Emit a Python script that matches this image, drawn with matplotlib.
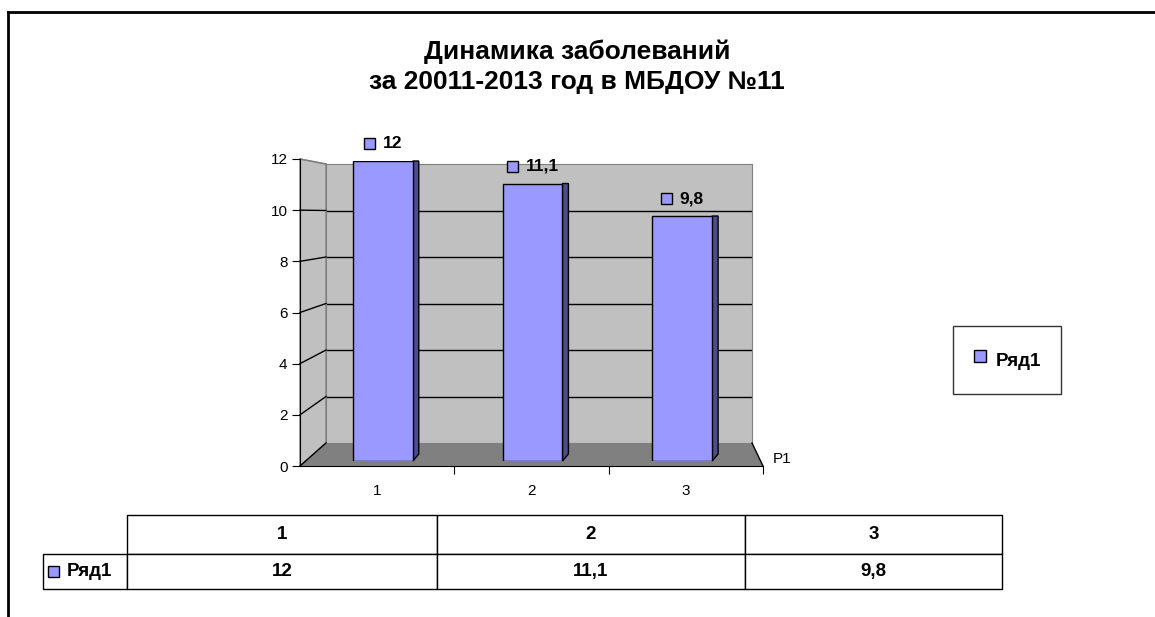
import numpy as np
import matplotlib
matplotlib.use("Agg")
import matplotlib.pyplot as plt
from matplotlib.patches import Polygon, Rectangle
from matplotlib.lines import Line2D
from matplotlib.offsetbox import AnnotationBbox, HPacker, TextArea, DrawingArea

categories = ["1", "2", "3"]
values = [12, 11.1, 9.8]
value_labels = ["12", "11,1", "9,8"]
series_name = "Ряд1"
depth_label = "Р1"
y_ticks = [0, 2, 4, 6, 8, 10, 12]
title = "Динамика заболеваний\nза 20011-2013 год в МБДОУ №11"

BAR = "#9999ff"
BAR_SIDE = "#4d4d8c"
WALL = "#c0c0c0"
FLOOR = "#808080"

W, H = 1155, 617
plt.rcParams["font.family"] = ["Liberation Sans", "DejaVu Sans"]

fig = plt.figure(figsize=(W / 100, H / 100), dpi=100)


def px_axes(l, t, r, b):
    return fig.add_axes([l / W, 1 - b / H, (r - l) / W, (b - t) / H])


def key_box(text, size=12.5):
    da = DrawingArea(9, 9, 0, 0)
    da.add_artist(Rectangle((0.5, 0.5), 8, 8, facecolor=BAR, edgecolor="black", lw=1))
    ta = TextArea(text, textprops=dict(fontsize=size, fontweight="bold"))
    return HPacker(children=[da, ta], align="center", pad=0, sep=5)


x = np.arange(1, len(values) + 1)
xlim = (0.5, len(values) + 0.5)
ymax = y_ticks[-1]

# back wall
ax_back = px_axes(326, 164, 752, 443)
ax_back.set_xlim(xlim)
ax_back.set_ylim(0, ymax)
ax_back.set_facecolor(WALL)
for v in y_ticks[1:-1]:
    ax_back.axhline(v, color="black", lw=1)
ax_back.set_xticks([])
ax_back.set_yticks([])
for s in ax_back.spines.values():
    s.set_color("#808080")

# front plane: axes, side wall, floor
ax = px_axes(300, 159, 763, 466)
ax.set_xlim(xlim)
ax.set_ylim(0, ymax)
ax.patch.set_visible(False)
for s in ["top", "right"]:
    ax.spines[s].set_visible(False)

to_front = ax_back.transData + ax.transData.inverted()


def back(px, py):
    return to_front.transform((px, py))


ax.add_patch(Polygon([(xlim[0], 0), (xlim[0], ymax), back(xlim[0], ymax), back(xlim[0], 0)],
                     facecolor=WALL, edgecolor="#808080", lw=1, clip_on=False, zorder=0))
ax.add_patch(Polygon([(xlim[0], 0), (xlim[1], 0), back(xlim[1], 0), back(xlim[0], 0)],
                     facecolor=FLOOR, edgecolor="none", clip_on=False, zorder=0))
for v in y_ticks:
    bx, by = back(xlim[0], v)
    ax.plot([xlim[0], bx], [v, by], color="black" if v < ymax else "#808080",
            lw=1, clip_on=False, zorder=1)
bx, by = back(xlim[1], 0)
ax.plot([xlim[1], bx], [0, by], color="black", lw=1, clip_on=False, zorder=1)

ax.set_yticks(y_ticks)
ax.tick_params(axis="y", direction="out", length=6, pad=3, labelsize=11)
ax.set_xticks(x + 0.5)
ax.set_xticklabels([])
ax.set_xticks(x, minor=True)
ax.set_xticklabels(categories, minor=True)
ax.tick_params(axis="x", which="major", direction="out", length=6)
ax.tick_params(axis="x", which="minor", length=0, pad=13, labelsize=11)
ax.annotate(depth_label, xy=(xlim[1], 0), xytext=(10, 7), textcoords="offset pixels",
            ha="left", va="center", fontsize=11, annotation_clip=False)

# bars
ax_mid = px_axes(308, 161, 757, 461)
ax_mid.set_xlim(xlim)
ax_mid.set_ylim(0, ymax)
ax_mid.axis("off")
ax_mid.bar(x, values, width=0.4, color=BAR, edgecolor="black", lw=1, zorder=3)
for xi, v, lab in zip(x, values, value_labels):
    xr = xi + 0.2
    ax_mid.add_patch(Polygon([(xr, 0), (xr + 0.04, 0.28), (xr + 0.04, v), (xr, v)],
                             facecolor=BAR_SIDE, edgecolor="black", lw=1, zorder=2,
                             clip_on=False))
    ab = AnnotationBbox(key_box(lab), (xi, v), xybox=(0, 12.5), boxcoords="offset points",
                        frameon=False, box_alignment=(0.5, 0.5))
    ax_mid.add_artist(ab)

# legend
handle = Line2D([], [], marker="s", linestyle="none", markerfacecolor=BAR,
                markeredgecolor="black", markersize=8)
leg = fig.legend([handle], [series_name], loc="center", bbox_to_anchor=(1007 / W, 1 - 360 / H),
                 prop=dict(size=13.5, weight="bold"), frameon=True, fancybox=False,
                 borderpad=1.05, handlelength=0.8, handleheight=2.0, handletextpad=0.45)
leg.get_frame().set_edgecolor("black")
leg.get_frame().set_linewidth(1)

# data table
ax_tab = px_axes(43, 515, 1002, 589)
ax_tab.axis("off")
col_w = np.array([84, 310, 308, 257]) / 959
tab = ax_tab.table(cellText=[[""] + categories, [""] + value_labels],
                   colWidths=list(col_w), cellLoc="center", bbox=[0, 0, 1, 1])
tab.auto_set_font_size(False)
for (r, c), cell in tab.get_celld().items():
    cell.set_linewidth(1)
    cell.get_text().set_fontsize(13.5)
    cell.get_text().set_fontweight("bold")
    cell.set_height(39 if r == 0 else 35)
tab[0, 0].visible_edges = ""
ax_tab.add_artist(AnnotationBbox(key_box(series_name, 13.5), (0, 35 / 2 / 74),
                                 xycoords="axes fraction", xybox=(4, 0),
                                 boxcoords="offset pixels", frameon=False,
                                 box_alignment=(0, 0.5)))

# title and outer frame
fig.text(577 / W, 1 - 67 / H, title, ha="center", va="center", fontsize=19,
         fontweight="bold", linespacing=1.3)
fig.add_artist(Line2D([8 / W, 8 / W], [0, 1 - 12 / H], color="black", lw=2))
fig.add_artist(Line2D([8 / W, 1], [1 - 12 / H, 1 - 12 / H], color="black", lw=2))

fig.savefig("out.png", dpi=100)
